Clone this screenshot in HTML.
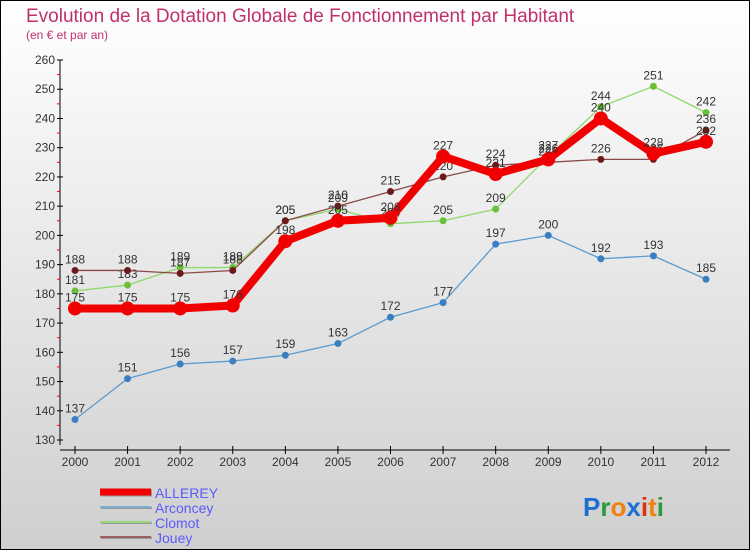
<!DOCTYPE html>
<html><head><meta charset="utf-8"><style>
body{margin:0;width:750px;height:550px;overflow:hidden;font-family:"Liberation Sans",sans-serif}
svg{display:block}
</style></head><body>
<svg id="c" width="750" height="550" xmlns="http://www.w3.org/2000/svg">
<defs><linearGradient id="bg" x1="0" y1="0" x2="0" y2="1"><stop offset="0" stop-color="#ffffff"/><stop offset="1" stop-color="#cfcfcf"/></linearGradient></defs>
<rect x="0.5" y="0.5" width="749" height="549" fill="url(#bg)" stroke="#000"/>
<text x="26" y="22" font-size="19" fill="#c0306a">Evolution de la Dotation Globale de Fonctionnement par Habitant</text>
<text x="26" y="39" font-size="12" fill="#c0306a">(en € et par an)</text>
<g id="axes"></g><g id="series"></g><g id="legend"></g>
<text x="583" y="516" font-size="26" font-weight="bold"><tspan fill="#1a6fd0">P</tspan><tspan fill="#2a9a3a">r</tspan><tspan fill="#f08010">o</tspan><tspan fill="#1a6fd0">x</tspan><tspan fill="#e03010">i</tspan><tspan fill="#f08010">t</tspan><tspan fill="#2a9a3a">i</tspan></text>
</svg>
<script>
const years=[2000,2001,2002,2003,2004,2005,2006,2007,2008,2009,2010,2011,2012];
const yTicks=[130,140,150,160,170,180,190,200,210,220,230,240,250,260];
const allerey=[175,175,175,176,198,205,206,227,221,226,240,228,232];
const arconcey=[137,151,156,157,159,163,172,177,197,200,192,193,185];
const clomot=[181,183,189,189,205,209,204,205,209,227,244,251,242];
const jouey=[188,188,187,188,205,210,215,220,224,225,226,226,236];
const NS="http://www.w3.org/2000/svg";
const X0=75,X1=706,Y0=440,Y1=60,VMIN=130,VMAX=260;
const xs=i=>X0+(X1-X0)*i/(years.length-1);
const ys=v=>Y0-(v-VMIN)*(Y0-Y1)/(VMAX-VMIN);
function mk(tag,attrs,parent){const e=document.createElementNS(NS,tag);for(const k in attrs)e.setAttribute(k,attrs[k]);parent.appendChild(e);return e;}
const ax=document.getElementById('axes');
let l=mk('line',{x1:60,y1:Y1,x2:60,y2:Y0+5,stroke:'#000'},ax);


l=mk('line',{x1:60,y1:450,x2:730,y2:450,stroke:'#000'},ax);


yTicks.forEach(v=>{
  const y=ys(v);
  mk('line',{x1:57,y1:y,x2:63,y2:y,stroke:'#000'},ax);
  const t=mk('text',{x:55,y:y+4,'font-size':12,fill:'#333','text-anchor':'end'},ax);t.textContent=v;
  
  
  if(v<VMAX){mk('line',{x1:57,y1:ys(v+5),x2:60,y2:ys(v+5),stroke:'#f00'},ax);}
});
years.forEach((yr,i)=>{
  const x=xs(i);
  mk('line',{x1:x,y1:446,x2:x,y2:454,stroke:'#000'},ax);
  const t=mk('text',{x:x,y:466,'font-size':12,fill:'#333','text-anchor':'middle'},ax);t.textContent=yr;
  
  
});
const sg=document.getElementById('series');
const defs=[
 {name:'arconcey',data:arconcey,color:'#5a9bd0',w:1.3,r:3.5,mc:'#3a80c0'},
 {name:'clomot',data:clomot,color:'#8fd86a',w:1.3,r:3.5,mc:'#6ac03a'},
 {name:'jouey',data:jouey,color:'#8b4a4a',w:1.3,r:3.5,mc:'#6a1a1a'},
 {name:'allerey',data:allerey,color:'#f00000',w:8,r:7,mc:'#f00000'}
];
defs.forEach(s=>{
  const g=mk('g',{},sg);
  
  
  const p=mk('polyline',{points:s.data.map((v,i)=>xs(i)+','+ys(v)).join(' '),fill:'none',stroke:s.color,'stroke-width':s.w,'stroke-linejoin':'round'},g);
  
  
  s.data.forEach((v,i)=>{
    const c=mk('circle',{cx:xs(i),cy:ys(v),r:s.r,fill:s.mc},g);
    
    
    const t=mk('text',{x:xs(i),y:ys(v)-7,'font-size':12,fill:'#333','text-anchor':'middle'},g);t.textContent=v;
    
    
  });
});
const lg=document.getElementById('legend');
const leg=[['ALLEREY','#f00000',7,'allerey'],['Arconcey','#7aaed0',2,'arconcey'],['Clomot','#98d878',2,'clomot'],['Jouey','#9a6060',2,'jouey']];
leg.forEach((e,i)=>{
  const y=492+i*15;
  const g=mk('g',{},lg);
  
  
  mk('line',{x1:101,y1:y+1,x2:152,y2:y+1,stroke:'#999','stroke-width':e[2]},g);
  mk('line',{x1:100,y1:y,x2:151,y2:y,stroke:e[1],'stroke-width':e[2]},g);
  const t=mk('text',{x:155,y:y+6,'font-size':14,fill:'#5a5aff'},g);t.textContent=e[0];
});
</script>
</body></html>
